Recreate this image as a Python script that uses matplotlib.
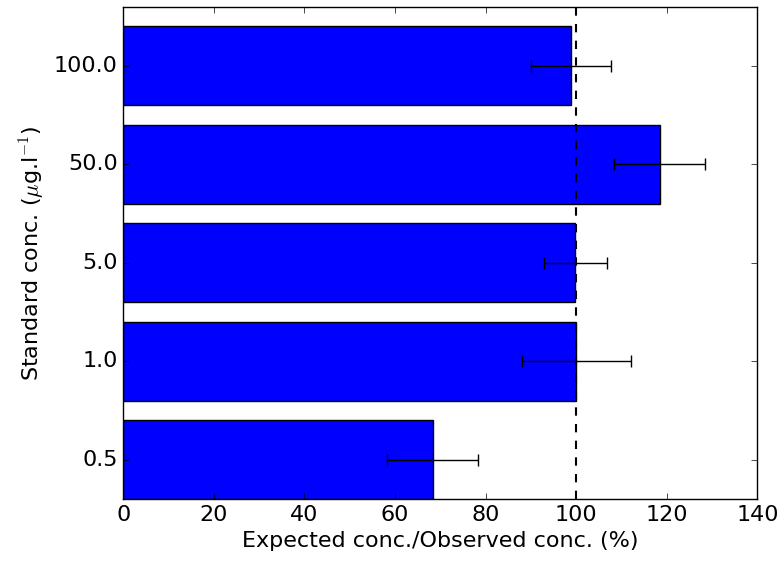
import matplotlib
matplotlib.use('Agg')
import matplotlib.pyplot as plt

# Standard concentrations and recovery (%)
labels = ['0.5', '1.0', '5.0', '50.0', '100.0']
recovery = [68.3, 100.0, 99.8, 118.4, 98.8]
errors = [10.0, 12.0, 6.9, 10.0, 8.8]

plt.style.use('classic')
plt.rcParams['font.family'] = 'DejaVu Sans'

fig = plt.figure(figsize=(7.8, 5.67), dpi=100, facecolor='white')
ax = fig.add_axes([0.158, 0.12, 0.813, 0.868])

pos = list(range(len(labels)))
ax.barh(pos, recovery, height=0.8, align='center', color='blue',
        edgecolor='black', linewidth=1,
        xerr=errors, error_kw=dict(ecolor='black', capsize=4, elinewidth=1, capthick=1))
ax.axvline(100, color='black', linestyle='--', linewidth=1.5)

ax.set_yticks(pos)
ax.set_yticklabels(labels, fontsize=16)
ax.set_ylim(-0.4, 4.6)
ax.set_xlim(0, 140)
ax.set_xticks(range(0, 141, 20))
ax.tick_params(axis='x', labelsize=16)
ax.set_xlabel('Expected conc./Observed conc. (%)', fontsize=16)
ax.set_ylabel('Standard conc. ($\\mu$g.l$^{-1}$)', fontsize=16)

fig.savefig('out.png', dpi=100, facecolor='white')
